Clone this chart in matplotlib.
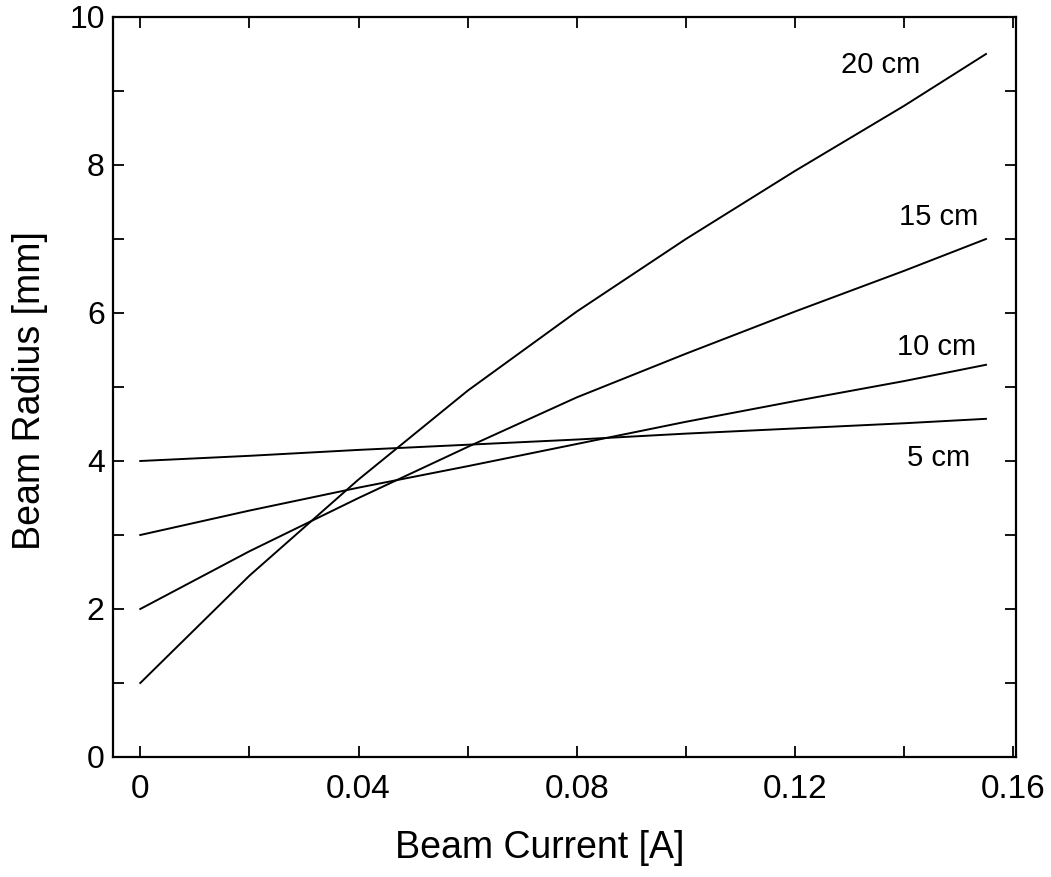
import matplotlib
matplotlib.use("Agg")
import matplotlib.pyplot as plt
import numpy as np

plt.rcParams['font.family'] = ['Liberation Sans', 'DejaVu Sans']

current = [0.0, 0.02, 0.04, 0.06, 0.08, 0.10, 0.12, 0.14, 0.155]
r_5cm = [4.00, 4.07, 4.15, 4.22, 4.29, 4.37, 4.44, 4.51, 4.57]
r_10cm = [3.00, 3.33, 3.64, 3.93, 4.23, 4.53, 4.81, 5.08, 5.30]
r_15cm = [2.00, 2.78, 3.50, 4.19, 4.86, 5.45, 6.02, 6.57, 7.00]
r_20cm = [1.00, 2.45, 3.75, 4.95, 6.02, 7.00, 7.92, 8.80, 9.50]

series = [("5 cm", r_5cm), ("10 cm", r_10cm), ("15 cm", r_15cm), ("20 cm", r_20cm)]
label_pos = {"20 cm": (0.1356, 9.35), "15 cm": (0.1463, 7.30),
             "10 cm": (0.1460, 5.54), "5 cm": (0.1463, 4.04)}

xticks = [0, 0.02, 0.04, 0.06, 0.08, 0.10, 0.12, 0.14, 0.16]
xticklabels = ["0", "", "0.04", "", "0.08", "", "0.12", "", "0.16"]
yticks = list(range(0, 11))
yticklabels = [str(v) if v % 2 == 0 else "" for v in yticks]

fig = plt.figure(figsize=(10.51, 8.77), dpi=100)
ax = fig.add_axes([113/1051, 120/877, 903/1051, 740/877])

for name, vals in series:
    ax.plot(current, vals, color="black", lw=1.4)
    lx, ly = label_pos[name]
    ax.text(lx, ly, name, ha="center", va="center", fontsize=21, color="black")

ax.set_xlim(-0.005, 0.1605)
ax.set_ylim(0, 10)
ax.set_xticks(xticks)
ax.set_xticklabels(xticklabels, fontsize=24)
ax.set_yticks(yticks)
ax.set_yticklabels(yticklabels, fontsize=23)
ax.tick_params(direction="in", length=8, width=1.3, top=True, right=True)
ax.tick_params(axis="x", pad=12)
ax.tick_params(axis="y", pad=6)
for s in ax.spines.values():
    s.set_linewidth(1.6)

ax.set_xlabel("Beam Current [A]", fontsize=27, va="center")
ax.xaxis.set_label_coords(0.473, -0.123)
ax.set_ylabel("Beam Radius [mm]", fontsize=27, va="center")
ax.yaxis.set_label_coords(-0.092, 0.495)

fig.savefig("out.png", dpi=100)
